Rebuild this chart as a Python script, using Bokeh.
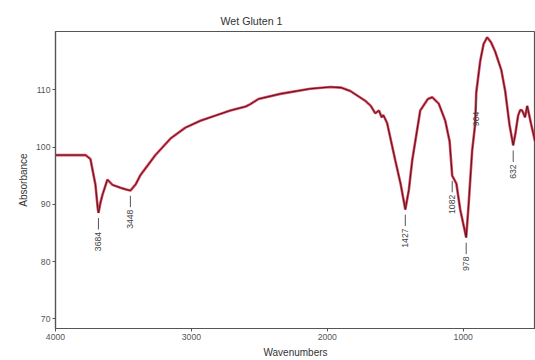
import numpy as np
from bokeh.plotting import figure
from bokeh.models import ColumnDataSource, Range1d, FixedTicker
from bokeh.core.properties import value
from bokeh.embed import file_html
from bokeh.resources import INLINE

# Spectrum (wavenumber, transmittance)
wavenumber = [4000, 3779, 3743, 3706, 3690, 3684, 3670, 3654, 3618, 3581, 3522, 3480, 3449,
              3410, 3375, 3265, 3154, 3044, 2934, 2824, 2713, 2600, 2566, 2507, 2346, 2125,
              1978, 1900, 1831, 1721, 1680, 1647, 1620, 1600, 1588, 1560, 1500, 1460, 1426,
              1400, 1375, 1316, 1260, 1228, 1180, 1132, 1100, 1081, 1050, 1022, 978, 960, 934,
              912, 904, 875, 850, 824, 795, 765, 720, 691, 660, 632, 615, 596, 580, 566, 545,
              529, 500, 471]
transmittance = [98.6, 98.6, 97.9, 93.4, 89.5, 88.5, 90.2, 91.7, 94.3, 93.4, 92.9, 92.6, 92.4,
                 93.5, 95.1, 98.6, 101.5, 103.4, 104.6, 105.5, 106.4, 107.1, 107.5, 108.4, 109.3, 110.2,
                 110.5, 110.4, 109.8, 108.1, 107.2, 105.9, 106.4, 105.2, 105.6, 104.2, 97.7, 93.5, 89.1,
                 92.5, 97.7, 106.4, 108.4, 108.7, 107.6, 104.6, 101.0, 95.0, 93.6, 89.1, 84.2, 90.0, 99.4,
                 104.0, 109.5, 115.0, 118.0, 119.2, 118.3, 116.7, 113.5, 109.8, 104.0, 100.3, 102.5, 105.5, 106.5,
                 106.4, 105.2, 107.2, 104.0, 101.0]

peak_pos = [3684, 3449, 1426, 1081, 978, 904, 632]
peak_val = [88.5, 92.4, 89.1, 95.0, 84.2, 109.5, 100.3]
peak_text = ["3684", "3448", "1427", "1082", "978", "904", "632"]

x_ticks = [4000, 3000, 2000, 1000]
y_ticks = [70, 80, 90, 100, 110]

FONT = "Liberation Sans"

p = figure(width=535, height=360, output_backend="svg", toolbar_location=None,
           x_range=Range1d(4000, 468), y_range=Range1d(68.3, 120.2),
           min_border_left=55, min_border_right=0, min_border_top=31, min_border_bottom=30)
p.title.text = "Wet Gluten 1"
p.title.text_font = FONT
p.title.text_font_size = "8pt"
p.title.text_font_style = "normal"
p.title.text_color = "#333333"
p.title.align = "left"
p.title.offset = 165

p.grid.visible = False
p.outline_line_color = "#555555"
p.outline_line_width = 1.2
p.background_fill_color = "white"
p.border_fill_color = "white"

p.xaxis.ticker = FixedTicker(ticks=x_ticks)
p.yaxis.ticker = FixedTicker(ticks=y_ticks)
for ax in (p.xaxis[0], p.yaxis[0]):
    ax.major_label_text_font = FONT
    ax.major_label_text_font_size = "6.5pt"
    ax.major_label_text_color = "#555555"
    ax.axis_label_text_font = FONT
    ax.axis_label_text_font_size = "7.5pt"
    ax.axis_label_text_font_style = "normal"
    ax.axis_label_text_color = "#333333"
    ax.axis_line_color = "#555555"
    ax.axis_line_width = 1.2
    ax.major_tick_line_color = "#555555"
    ax.major_tick_out = 3
    ax.major_tick_in = 0
    ax.minor_tick_line_color = None
    ax.axis_label_standoff = 4
    ax.major_label_standoff = 2
p.xaxis.axis_label = "Wavenumbers"
p.yaxis.axis_label = "Absorbance"

src = ColumnDataSource(dict(x=wavenumber, y=transmittance))
p.line("x", "y", source=src, line_color="#e0223f", line_width=2.6, line_alpha=0.85)
p.line("x", "y", source=src, line_color="#4a1a1e", line_width=1)

ps = ColumnDataSource(dict(x=peak_pos, y=peak_val,
                           y0=[v - 0.9 for v in peak_val], y1=[v - 2.9 for v in peak_val],
                           t=peak_text))
p.segment(x0="x", y0="y0", x1="x", y1="y1", source=ps, line_color="#555555", line_width=1)
p.text(x="x", y="y", text="t", source=ps, angle=np.pi / 2, text_align="right",
       text_baseline="middle", y_offset=19, text_font=value(FONT), text_font_size="6.5pt",
       text_color="#444444")

open("out.html", "w").write(file_html(p, INLINE))
